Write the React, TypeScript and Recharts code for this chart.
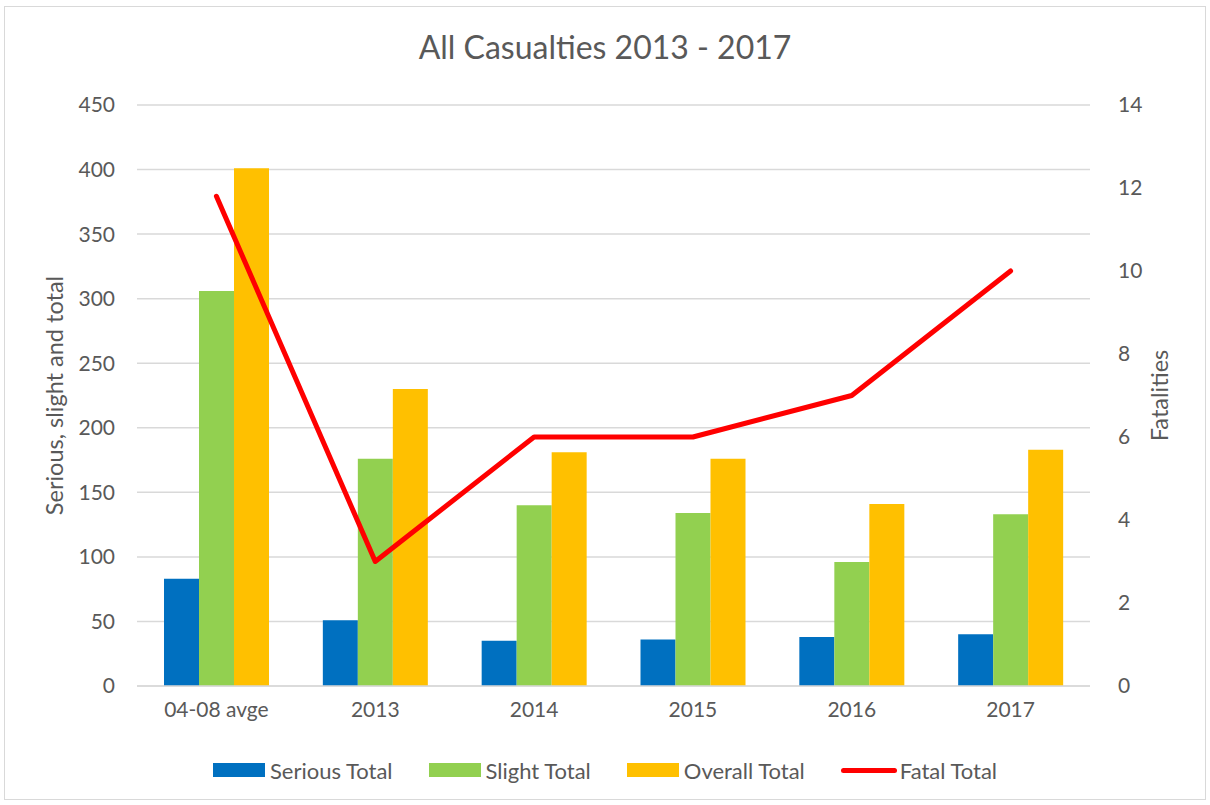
import { ComposedChart, Bar, Line, XAxis, YAxis, CartesianGrid, Legend } from 'recharts'

const categories = ['04-08 avge', '2013', '2014', '2015', '2016', '2017']
const seriousTotal = [83, 51, 35, 36, 38, 40]
const slightTotal = [306, 176, 140, 134, 96, 133]
const overallTotal = [401, 230, 181, 176, 141, 183]
const fatalTotal = [11.8, 3, 6, 6, 7, 10]

const leftTicks = [0, 50, 100, 150, 200, 250, 300, 350, 400, 450]
const rightTicks = [0, 2, 4, 6, 8, 10, 12, 14]

const FONT = 'Lato, "Open Sans", sans-serif'
const TEXT = '#595959'
const GRID = '#d9d9d9'

const data = categories.map((name, i) => ({
  name,
  serious: seriousTotal[i],
  slight: slightTotal[i],
  overall: overallTotal[i],
  fatal: fatalTotal[i],
}))

const legendItems = [
  { label: 'Serious Total', color: '#0070C0', kind: 'rect' },
  { label: 'Slight Total', color: '#92D050', kind: 'rect' },
  { label: 'Overall Total', color: '#FFC000', kind: 'rect' },
  { label: 'Fatal Total', color: '#FF0000', kind: 'line' },
]

function ChartLegend() {
  return (
    <div style={{ display: 'flex', justifyContent: 'center', alignItems: 'center', height: 48, fontFamily: FONT, fontSize: 22, color: TEXT }}>
      {legendItems.map((it, i) => (
        <div key={it.label} style={{ display: 'flex', alignItems: 'center', marginLeft: i === 0 ? 0 : 36 }}>
          {it.kind === 'rect' ? (
            <span style={{ display: 'inline-block', width: 52, height: 14, background: it.color, marginRight: 5 }} />
          ) : (
            <span style={{ display: 'inline-block', width: 56, height: 5, borderRadius: 3, background: it.color, marginRight: 3 }} />
          )}
          <span>{it.label}</span>
        </div>
      ))}
    </div>
  )
}

export default function App() {
  return (
    <div style={{ position: 'absolute', left: 4, top: 6, width: 1202, height: 794, border: `1px solid ${GRID}`, boxSizing: 'border-box', background: '#fff' }}>
      <div style={{ position: 'absolute', left: 0, top: 20, width: 1200, textAlign: 'center', fontFamily: FONT, fontSize: 32, color: TEXT }}>
        All Casualties 2013 - 2017
      </div>
      <ComposedChart
        width={1200}
        height={792}
        data={data}
        margin={{ top: 98, right: 0, left: 0, bottom: 5 }}
        barGap={0}
        barSize={35}
      >
        <CartesianGrid vertical={false} stroke={GRID} strokeWidth={1.5} yAxisId="left" />
        <XAxis
          dataKey="name"
          height={60}
          tickLine={false}
          axisLine={{ stroke: GRID, strokeWidth: 1.5 }}
          tickSize={6}
          tickMargin={10}
          tick={{ fill: TEXT, fontSize: 21, fontFamily: FONT }}
        />
        <YAxis
          yAxisId="left"
          width={132}
          domain={[0, 450]}
          ticks={leftTicks}
          tickLine={false}
          axisLine={false}
          tickSize={6}
          tickMargin={16}
          tick={{ fill: TEXT, fontSize: 21, fontFamily: FONT }}
          label={{ value: 'Serious, slight and total', angle: -90, position: 'insideLeft', offset: 50, style: { textAnchor: 'middle', fill: TEXT, fontSize: 23.5, fontFamily: FONT } }}
        />
        <YAxis
          yAxisId="right"
          orientation="right"
          width={115}
          domain={[0, 14]}
          ticks={rightTicks}
          tickLine={false}
          axisLine={false}
          tickSize={6}
          tickMargin={22}
          tick={{ fill: TEXT, fontSize: 21, fontFamily: FONT }}
          label={{ value: 'Fatalities', angle: -90, position: 'insideRight', offset: 45, style: { textAnchor: 'middle', fill: TEXT, fontSize: 23.5, fontFamily: FONT } }}
        />
        <Legend verticalAlign="bottom" height={48} content={() => <ChartLegend />} />
        <Bar yAxisId="left" dataKey="serious" name="Serious Total" fill="#0070C0" isAnimationActive={false} />
        <Bar yAxisId="left" dataKey="slight" name="Slight Total" fill="#92D050" isAnimationActive={false} />
        <Bar yAxisId="left" dataKey="overall" name="Overall Total" fill="#FFC000" isAnimationActive={false} />
        <Line
          yAxisId="right"
          type="linear"
          dataKey="fatal"
          name="Fatal Total"
          stroke="#FF0000"
          strokeWidth={5}
          strokeLinecap="round"
          strokeLinejoin="round"
          dot={false}
          activeDot={false}
          isAnimationActive={false}
        />
      </ComposedChart>
    </div>
  )
}
